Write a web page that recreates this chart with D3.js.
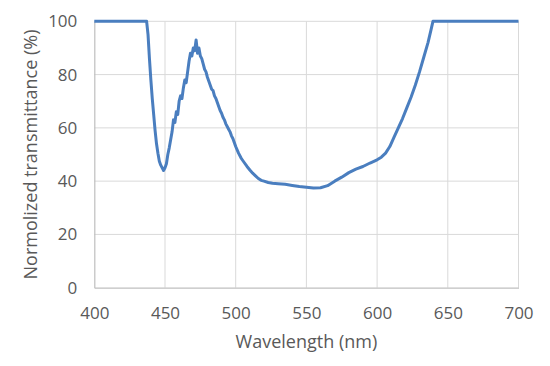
<!DOCTYPE html>
<html>
<head>
<meta charset="utf-8">
<script src="https://cdn.jsdelivr.net/npm/d3@7"></script>
<style>
  body { margin: 0; background: #fff; }
  text { font-family: "Open Sans", sans-serif; fill: #595959; }
</style>
</head>
<body>
<svg id="chart"></svg>
<script>
// wavelength (nm) and normalized transmittance (%)
const wavelength = [
  400, 437, 438, 439, 440, 441, 442, 443, 444, 445, 446, 447, 448, 449, 450,
  451, 452, 453, 454, 455, 456, 457, 458, 459, 460, 461, 462, 463, 464, 465,
  466, 467, 468, 469, 470, 471, 472, 473, 474, 475, 476, 477, 478, 479, 480,
  481, 482, 483, 484, 485, 486, 487, 488, 489, 490, 491, 492, 493, 494, 495,
  496, 497, 498, 499, 500, 502, 504, 506, 508, 510, 512, 514, 516, 518, 520,
  523, 526, 530, 535, 540, 545, 550, 555, 560, 565, 570, 575, 580, 585, 590,
  595, 600, 603, 606, 609, 612, 615, 618, 621, 624, 627, 630, 633, 636, 638,
  639.5, 700
];
const transmittance = [
  100, 100, 95, 86, 78, 71, 65, 59, 54, 50.5, 47.5, 46, 45, 44, 45,
  46.5, 50, 52.5, 55.5, 58.5, 63, 62, 66, 65, 70, 72, 71, 75, 78, 77,
  81, 85, 88, 87, 90, 89, 93, 88, 90, 87, 86, 84, 82, 81, 79,
  77.5, 76, 74.5, 74, 72, 71, 69.5, 68, 66.5, 65.5, 64, 63, 61.5, 60.5, 59.5,
  58.5, 57, 56, 54.5, 53, 50.5, 48.5, 47, 45.5, 44.2, 43, 42, 41, 40.3, 40,
  39.5, 39.2, 39, 38.8, 38.4, 38, 37.7, 37.4, 37.5, 38.3, 40, 41.5, 43.2, 44.5, 45.5,
  46.8, 48, 49, 50.5, 53, 56.5, 60, 63.5, 67.5, 71.5, 76, 81, 86.5, 92, 96.5,
  100, 100
];
const xTicks = [400, 450, 500, 550, 600, 650, 700];
const yTicks = [0, 20, 40, 60, 80, 100];

const width = 550, height = 366;
const margin = { top: 21.3, right: 31.5, bottom: 78.3, left: 94.3 };

const svg = d3.select("#chart")
  .attr("width", width)
  .attr("height", height)
  .attr("viewBox", [0, 0, width, height]);

const x = d3.scaleLinear().domain([400, 700]).range([margin.left, width - margin.right]);
const y = d3.scaleLinear().domain([0, 100]).range([height - margin.bottom, margin.top]);

//gridlines
svg.append("g")
  .selectAll("line")
  .data(yTicks.filter(d => d > 0))
  .join("line")
  .attr("x1", x(400)).attr("x2", x(700))
  .attr("y1", y).attr("y2", y)
  .attr("stroke", "#d9d9d9")
  .attr("stroke-width", 1);
svg.append("g")
  .selectAll("line")
  .data(xTicks.filter(d => d > 400))
  .join("line")
  .attr("x1", x).attr("x2", x)
  .attr("y1", y(0)).attr("y2", y(100))
  .attr("stroke", "#d9d9d9")
  .attr("stroke-width", 1);

//axes
const xAxis = svg.append("g")
  .attr("transform", `translate(0,${y(0)})`)
  .call(d3.axisBottom(x).tickValues(xTicks).tickSize(0).tickPadding(19));
const yAxis = svg.append("g")
  .attr("transform", `translate(${x(400)},0)`)
  .call(d3.axisLeft(y).tickValues(yTicks).tickSize(0).tickPadding(17));
[xAxis, yAxis].forEach(a => {
  a.select(".domain").attr("stroke", "#bfbfbf").attr("stroke-width", 1.2);
  a.selectAll("text").style("font-size", "17px").attr("fill", "#595959");
});

//curve
svg.append("path")
  .datum(wavelength.map((w, i) => [w, transmittance[i]]))
  .attr("fill", "none")
  .attr("stroke", "#4a7ebf")
  .attr("stroke-width", 3)
  .attr("stroke-linejoin", "round")
  .attr("d", d3.line().x(d => x(d[0])).y(d => y(d[1])));

//axis titles
svg.append("text")
  .attr("x", (x(400) + x(700)) / 2)
  .attr("y", 348)
  .attr("text-anchor", "middle")
  .style("font-size", "18px")
  .text("Wavelength (nm)");
svg.append("text")
  .attr("transform", `translate(37,${(y(0) + y(100)) / 2}) rotate(-90)`)
  .attr("text-anchor", "middle")
  .style("font-size", "18px")
  .text("Normolized transmittance (%)");
</script>
</body>
</html>
